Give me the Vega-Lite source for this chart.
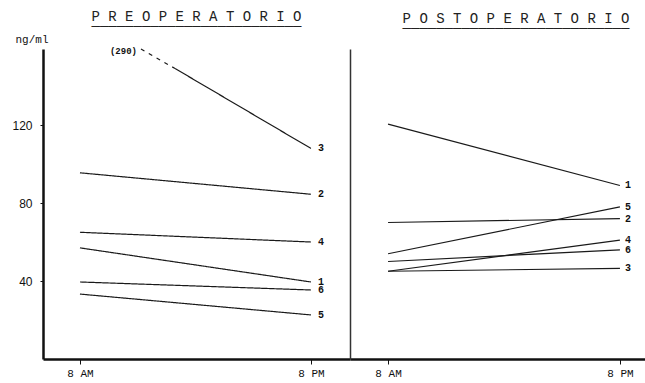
{
  "$schema": "https://vega.github.io/schema/vega-lite/v6.json",
  "autosize": {"type": "pad"},
  "padding": {"left": 11, "top": 10, "right": 0, "bottom": 0},
  "background": "white",
  "config": {
    "view": {"stroke": null},
    "concat": {"spacing": 0},
    "axis": {"domainColor": "#111", "tickColor": "#111", "labelColor": "#111", "titleColor": "#111", "grid": false},
    "title": {"font": "Liberation Mono", "fontSize": 14, "fontWeight": "normal", "color": "#222", "lineHeight": 10}
  },
  "datasets": {
    "pre": [
      {"patient": "1", "hour": 8, "value": 57, "seg": "solid"},
      {"patient": "1", "hour": 20, "value": 39.5, "seg": "solid"},
      {"patient": "2", "hour": 8, "value": 95.5, "seg": "solid"},
      {"patient": "2", "hour": 20, "value": 84.5, "seg": "solid"},
      {"patient": "3", "hour": 11.17, "value": 159, "seg": "dashed", "note": "(290)"},
      {"patient": "3", "hour": 12.94, "value": 149, "seg": "dashed"},
      {"patient": "3", "hour": 12.94, "value": 149, "seg": "solid"},
      {"patient": "3", "hour": 20, "value": 108, "seg": "solid"},
      {"patient": "4", "hour": 8, "value": 65, "seg": "solid"},
      {"patient": "4", "hour": 20, "value": 60, "seg": "solid"},
      {"patient": "5", "hour": 8, "value": 33.3, "seg": "solid"},
      {"patient": "5", "hour": 20, "value": 22.6, "seg": "solid"},
      {"patient": "6", "hour": 8, "value": 39.5, "seg": "solid"},
      {"patient": "6", "hour": 20, "value": 35.4, "seg": "solid"}
    ],
    "post": [
      {"patient": "1", "hour": 8, "value": 120.5, "seg": "solid"},
      {"patient": "1", "hour": 20, "value": 89, "seg": "solid"},
      {"patient": "2", "hour": 8, "value": 70, "seg": "solid"},
      {"patient": "2", "hour": 20, "value": 72, "seg": "solid"},
      {"patient": "3", "hour": 8, "value": 45, "seg": "solid"},
      {"patient": "3", "hour": 20, "value": 46.5, "seg": "solid"},
      {"patient": "4", "hour": 8, "value": 45, "seg": "solid"},
      {"patient": "4", "hour": 20, "value": 61, "seg": "solid"},
      {"patient": "5", "hour": 8, "value": 54, "seg": "solid"},
      {"patient": "5", "hour": 20, "value": 78, "seg": "solid"},
      {"patient": "6", "hour": 8, "value": 50, "seg": "solid"},
      {"patient": "6", "hour": 20, "value": 56, "seg": "solid"}
    ]
  },
  "hconcat": [
    {
      "width": 307,
      "height": 310,
      "data": {"name": "pre"},
      "title": {"text": ["P R E O P E R A T O R I O", "─────────────────────────"], "anchor": "middle", "dx": 0, "offset": -1},
      "encoding": {
        "x": {"field": "hour", "type": "quantitative", "scale": {"domain": [6.08, 22.03], "nice": false, "zero": false},
          "axis": {"values": [8, 20], "labelExpr": "datum.value == 8 ? '8 AM' : '8 PM'", "title": null, "domainWidth": 2.5, "tickSize": 5, "tickWidth": 1, "labelFont": "Liberation Mono", "labelFontSize": 11, "labelPadding": 3}},
        "y": {"field": "value", "type": "quantitative", "scale": {"domain": [0, 159], "nice": false},
          "axis": {"values": [40, 80, 120], "title": "ng/ml", "titleAngle": 0, "titleAlign": "left", "titleBaseline": "alphabetic", "titleX": -28, "titleY": -7, "titleFont": "Liberation Mono", "titleFontSize": 11, "titleFontWeight": "normal", "domainWidth": 2.5, "tickSize": 3, "labelFont": "Liberation Sans", "labelFontSize": 12, "labelPadding": 8}}
      },
      "layer": [
        {
          "mark": {"type": "line", "color": "#1a1a1a", "strokeWidth": 1.2},
          "encoding": {
            "detail": {"field": "patient"},
            "strokeDash": {"field": "seg", "type": "nominal", "scale": {"domain": ["solid", "dashed"], "range": [[1, 0], [4, 5]]}, "legend": null}
          }
        },
        {
          "transform": [{"filter": "datum.hour == 20"}],
          "mark": {"type": "text", "align": "left", "baseline": "middle", "dx": 7, "font": "Liberation Mono", "fontSize": 10, "fontWeight": "bold", "color": "#111"},
          "encoding": {"text": {"field": "patient"}}
        },
        {
          "transform": [{"filter": "datum.note != null"}],
          "mark": {"type": "text", "align": "right", "baseline": "middle", "dx": -4, "dy": 2, "font": "Liberation Mono", "fontSize": 9, "fontWeight": "bold", "color": "#111"},
          "encoding": {"text": {"field": "note"}}
        }
      ]
    },
    {
      "width": 296,
      "height": 310,
      "data": {"name": "post"},
      "title": {"text": ["P O S T O P E R A T O R I O", "───────────────────────────"], "anchor": "middle", "dx": 18, "offset": 13},
      "encoding": {
        "x": {"field": "hour", "type": "quantitative", "scale": {"domain": [6.03, 21.35], "nice": false, "zero": false},
          "axis": {"values": [8, 20], "labelExpr": "datum.value == 8 ? '8 AM' : '8 PM'", "title": null, "domainWidth": 2.5, "tickSize": 5, "tickWidth": 1, "labelFont": "Liberation Mono", "labelFontSize": 11, "labelPadding": 3}},
        "y": {"field": "value", "type": "quantitative", "scale": {"domain": [0, 159], "nice": false},
          "axis": {"values": [], "labels": false, "ticks": false, "title": null, "domainWidth": 1.5, "domainColor": "#333"}}
      },
      "layer": [
        {
          "mark": {"type": "line", "color": "#1a1a1a", "strokeWidth": 1.2},
          "encoding": {"detail": {"field": "patient"}}
        },
        {
          "transform": [{"filter": "datum.hour == 20"}],
          "mark": {"type": "text", "align": "left", "baseline": "middle", "dx": 5, "font": "Liberation Mono", "fontSize": 10, "fontWeight": "bold", "color": "#111"},
          "encoding": {"text": {"field": "patient"}}
        }
      ]
    }
  ]
}
